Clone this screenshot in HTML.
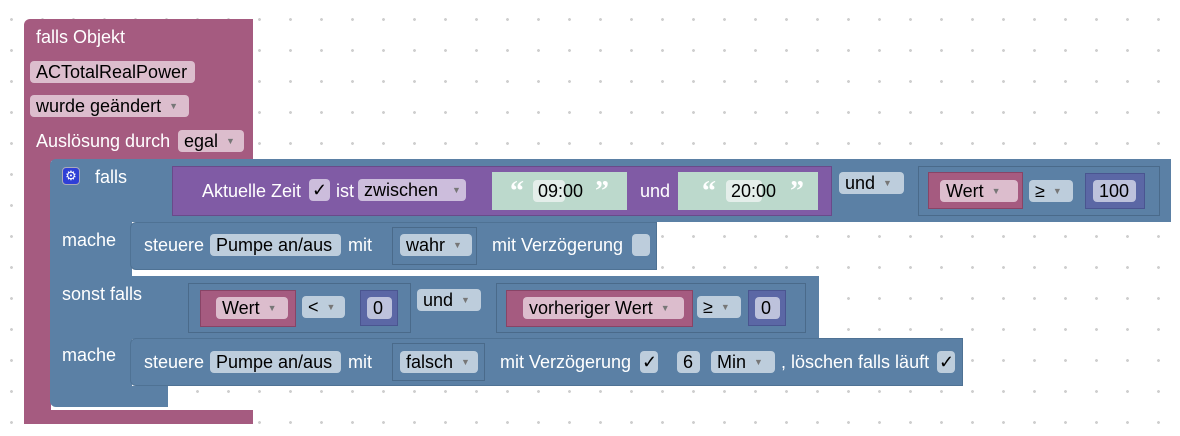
<!DOCTYPE html>
<html><head><meta charset="utf-8"><style>
*{margin:0;padding:0;box-sizing:border-box}
body{width:1180px;height:436px;overflow:hidden;background:#fff;position:relative;font-family:"Liberation Sans",Arial,sans-serif;font-size:18px;
background-image:radial-gradient(circle,#cfcfcf 1.3px,transparent 1.6px);background-size:31px 31px;background-position:-4px 4px}
.a{position:absolute}
.t{position:absolute;color:#fff;white-space:nowrap;line-height:20px}
.f{position:absolute;border-radius:4px;color:#000;white-space:nowrap;line-height:22px;height:22px;padding-left:6px}
.fb{background:#bdcddc}.fp{background:#dcbdcd}.fu{background:#ccbddc}.fg{background:#e4eeea}.fn{background:#bdc2dc}
.ar{font-size:9px;color:#777;margin-left:8px;vertical-align:3px}
.q{position:absolute;color:#fff;font-size:28px;font-weight:bold;font-family:"Liberation Serif",serif;line-height:28px}
.pink{background:#a55b80}.blue{background:#5b80a5}.purp{background:#805ba5}
</style></head><body>
<!-- event block -->
<div class="a pink" style="left:24px;top:19px;width:229px;height:142px;border-radius:6px 0 0 0"></div>
<div class="a pink" style="left:24px;top:150px;width:27px;height:274px;border-radius:0 0 0 6px"></div>
<div class="a pink" style="left:24px;top:410px;width:229px;height:14px"></div>
<div class="t" style="left:36px;top:27px">falls Objekt</div>
<div class="f fp" style="left:30px;top:61px;width:165px">ACTotalRealPower</div>
<div class="f fp" style="left:30px;top:95px;width:159px">wurde geändert<span class="ar">▼</span></div>
<div class="t" style="left:36px;top:131px">Auslösung durch</div>
<div class="f fp" style="left:178px;top:130px;width:66px">egal<span class="ar">▼</span></div>

<!-- if block -->
<div class="a blue" style="left:50px;top:159px;width:1121px;height:63px;border-radius:6px 0 0 0"></div>
<div class="a blue" style="left:50px;top:220px;width:82px;height:60px"></div>
<div class="a blue" style="left:50px;top:276px;width:769px;height:63px"></div>
<div class="a blue" style="left:50px;top:336px;width:82px;height:55px"></div>
<div class="a blue" style="left:50px;top:386px;width:118px;height:21px;border-radius:0 0 0 6px"></div>
<div class="a" style="left:62px;top:167px;width:18px;height:18px;background:#2f3fd6;border-radius:4px;border:1px solid #aab;color:#fff;font-size:13px;text-align:center;line-height:16px">⚙</div>
<div class="t" style="left:95px;top:167px">falls</div>
<div class="t" style="left:62px;top:230px">mache</div>
<div class="t" style="left:62px;top:284px">sonst falls</div>
<div class="t" style="left:62px;top:345px">mache</div>

<!-- purple time -->
<div class="a purp" style="left:172px;top:166px;width:660px;height:50px;border:1px solid #6a4a8a"></div>
<div class="t" style="left:202px;top:181px">Aktuelle Zeit</div>
<div class="f fu" style="left:309px;top:179px;width:21px;padding-left:3px">✓</div>
<div class="t" style="left:336px;top:181px">ist</div>
<div class="f fu" style="left:358px;top:179px;width:108px">zwischen<span class="ar" style="margin-left:14px">▼</span></div>
<div class="a" style="left:492px;top:172px;width:135px;height:38px;background:#bcd9cc"></div>
<div class="q" style="left:510px;top:178px">“</div>
<div class="f fg" style="left:533px;top:180px;width:32px;padding-left:5px;width:32px">09:00</div>
<div class="q" style="left:595px;top:178px">”</div>
<div class="t" style="left:640px;top:181px">und</div>
<div class="a" style="left:678px;top:172px;width:140px;height:38px;background:#bcd9cc"></div>
<div class="q" style="left:702px;top:178px">“</div>
<div class="f fg" style="left:726px;top:180px;width:36px;padding-left:5px">20:00</div>
<div class="q" style="left:790px;top:178px">”</div>
<div class="f fb" style="left:839px;top:172px;width:65px">und<span class="ar">▼</span></div>
<div class="a" style="left:918px;top:166px;width:242px;height:50px;border:1px solid #4a6a8a"></div>
<div class="a pink" style="left:928px;top:172px;width:95px;height:37px;border:1px solid #884466"></div>
<div class="f fp" style="left:940px;top:180px;width:78px">Wert<span class="ar">▼</span></div>
<div class="f fb" style="left:1029px;top:180px;width:44px">≥<span class="ar">▼</span></div>
<div class="a" style="left:1085px;top:173px;width:60px;height:36px;background:#5b67a5;border:1px solid #4a5590"></div>
<div class="f fn" style="left:1093px;top:180px;width:43px">100</div>

<!-- steuere 1 -->
<div class="a blue" style="left:130px;top:222px;width:527px;height:48px;border-radius:6px 0 0 6px;border:1px solid #4f7294"></div>
<div class="t" style="left:144px;top:235px">steuere</div>
<div class="f fb" style="left:210px;top:234px;width:131px">Pumpe an/aus</div>
<div class="t" style="left:348px;top:235px">mit</div>
<div class="a" style="left:392px;top:227px;width:85px;height:38px;border:1px solid #4a6a8a"></div>
<div class="f fb" style="left:400px;top:234px;width:72px">wahr<span class="ar">▼</span></div>
<div class="t" style="left:492px;top:235px">mit Verzögerung</div>
<div class="f fb" style="left:632px;top:234px;width:18px"></div>

<!-- sonst falls condition -->
<div class="a" style="left:188px;top:283px;width:223px;height:50px;border:1px solid #4a6a8a"></div>
<div class="a pink" style="left:200px;top:290px;width:96px;height:37px;border:1px solid #884466"></div>
<div class="f fp" style="left:216px;top:297px;width:72px">Wert<span class="ar">▼</span></div>
<div class="f fb" style="left:302px;top:296px;width:43px">&lt;<span class="ar">▼</span></div>
<div class="a" style="left:360px;top:290px;width:38px;height:36px;background:#5b67a5;border:1px solid #4a5590"></div>
<div class="f fn" style="left:367px;top:297px;width:25px">0</div>
<div class="f fb" style="left:417px;top:289px;width:64px">und<span class="ar">▼</span></div>
<div class="a" style="left:496px;top:283px;width:310px;height:50px;border:1px solid #4a6a8a"></div>
<div class="a pink" style="left:506px;top:290px;width:187px;height:37px;border:1px solid #884466"></div>
<div class="f fp" style="left:523px;top:297px;width:161px">vorheriger Wert<span class="ar">▼</span></div>
<div class="f fb" style="left:697px;top:296px;width:44px">≥<span class="ar">▼</span></div>
<div class="a" style="left:748px;top:290px;width:38px;height:36px;background:#5b67a5;border:1px solid #4a5590"></div>
<div class="f fn" style="left:755px;top:297px;width:25px">0</div>

<!-- steuere 2 -->
<div class="a blue" style="left:130px;top:338px;width:833px;height:48px;border-radius:6px 0 0 6px;border:1px solid #4f7294"></div>
<div class="t" style="left:144px;top:352px">steuere</div>
<div class="f fb" style="left:210px;top:351px;width:131px">Pumpe an/aus</div>
<div class="t" style="left:348px;top:352px">mit</div>
<div class="a" style="left:392px;top:343px;width:93px;height:38px;border:1px solid #4a6a8a"></div>
<div class="f fb" style="left:400px;top:351px;width:78px">falsch<span class="ar">▼</span></div>
<div class="t" style="left:500px;top:352px">mit Verzögerung</div>
<div class="f fb" style="left:640px;top:351px;width:18px;padding-left:2px">✓</div>
<div class="f fb" style="left:677px;top:351px;width:23px">6</div>
<div class="f fb" style="left:711px;top:351px;width:64px">Min<span class="ar">▼</span></div>
<div class="t" style="left:781px;top:352px">, löschen falls läuft</div>
<div class="f fb" style="left:937px;top:351px;width:18px;padding-left:2px">✓</div>
</body></html>
